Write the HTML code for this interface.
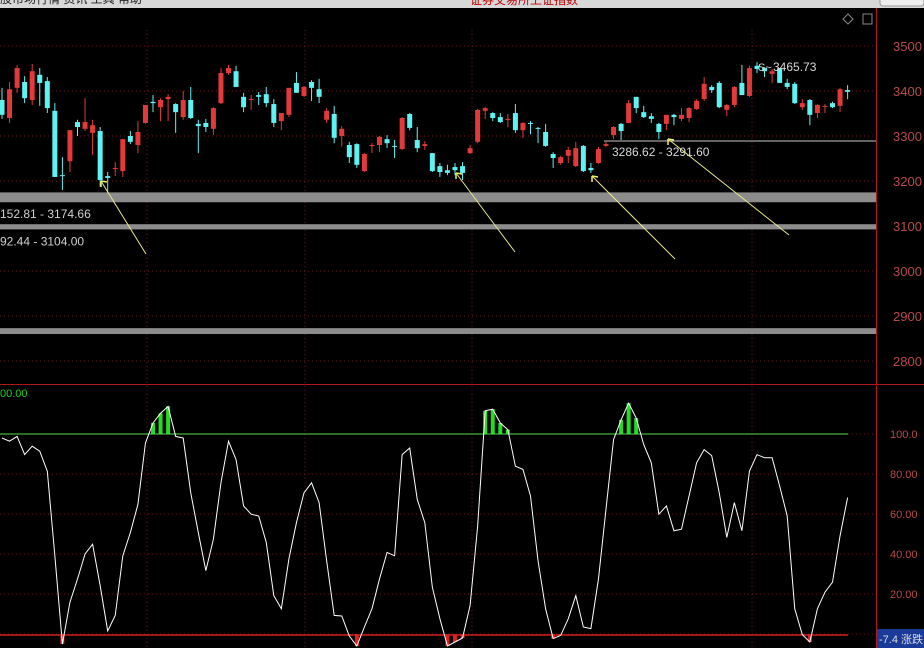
<!DOCTYPE html>
<html><head><meta charset="utf-8">
<style>
html,body{margin:0;padding:0;background:#000;width:924px;height:648px;overflow:hidden}
svg{display:block}
text{font-family:"Liberation Sans","Noto Sans CJK SC",sans-serif}
</style></head>
<body>
<svg id="chart" width="924" height="648" viewBox="0 0 924 648">
  <rect x="0" y="0" width="924" height="648" fill="#000"/>
  <rect x="0" y="0" width="924" height="8" fill="#d8d8d8"/>
  <text x="0" y="3" font-size="12" fill="#222">股市场行情    资讯    工具    帮助</text>
  <text x="470" y="4" font-size="12" fill="#c00000">证券交易所上证指数</text>
  <rect x="880" y="-4" width="44" height="10" rx="3" fill="#eee" stroke="#999"/>
  <g id="grid"></g>
  <g id="bands"></g>
  <g id="candles"></g>
  <g id="osc"></g>
  <g id="axes"></g>
  <g id="notes"></g>
  <path d="M848 14 L853 19 L848 24 L843 19 Z" fill="none" stroke="#888"/>
  <rect x="863" y="14" width="9" height="10" fill="none" stroke="#888"/>
</svg>
<script>
const ohlc_open=[3380,3340,3407,3420,3380,3436,3422,3356,3213,3244,3331,3316,3307,3311,3211,3227,3222,3300,3280,3329,3376,3364,3382,3371,3342,3380,3327,3329,3316,3373,3440,3444,3387,3380,3391,3393,3371,3333,3347,3418,3389,3420,3404,3336,3349,3300,3280,3282,3222,3278,3280,3293,3278,3271,3349,3291,3278,3262,3233,3224,3231,3233,3262,3287,3356,3351,3342,3336,3351,3313,3329,3318,3309,3260,3240,3256,3233,3278,3229,3240,3278,3302,3327,3329,3387,3353,3344,3327,3327,3347,3338,3340,3360,3382,3409,3418,3358,3369,3418,3389,3456,3451,3438,3451,3418,3416,3364,3380,3351,3366,3373,3367,3402];
const ohlc_high=[3407,3420,3458,3433,3460,3451,3431,3373,3253,3313,3336,3384,3336,3320,3220,3242,3293,3311,3333,3369,3391,3384,3393,3373,3400,3409,3336,3338,3364,3451,3458,3456,3396,3391,3398,3409,3382,3351,3407,3442,3411,3424,3427,3362,3367,3322,3287,3284,3262,3284,3300,3302,3291,3342,3351,3320,3289,3262,3240,3236,3240,3242,3280,3360,3364,3353,3351,3349,3371,3331,3333,3320,3327,3264,3256,3276,3287,3280,3240,3276,3287,3322,3329,3380,3387,3367,3351,3329,3347,3349,3362,3364,3382,3431,3413,3422,3371,3411,3458,3456,3464,3453,3449,3451,3427,3420,3382,3382,3371,3371,3376,3407,3413];
const ohlc_low=[3338,3329,3396,3373,3369,3367,3351,3209,3180,3220,3300,3311,3258,3187,3173,3211,3209,3282,3262,3327,3353,3333,3333,3307,3336,3338,3262,3309,3302,3371,3436,3409,3353,3358,3369,3364,3320,3313,3342,3396,3387,3378,3373,3329,3284,3276,3240,3229,3220,3262,3264,3273,3251,3269,3313,3264,3269,3220,3209,3213,3213,3202,3260,3284,3338,3333,3329,3320,3307,3296,3304,3284,3276,3229,3236,3240,3231,3220,3218,3238,3276,3293,3291,3329,3351,3340,3329,3293,3313,3324,3333,3331,3358,3378,3396,3362,3344,3364,3391,3387,3440,3431,3418,3418,3404,3371,3358,3324,3340,3351,3362,3353,3382];
const ohlc_close=[3347,3404,3451,3384,3444,3418,3362,3209,3211,3313,3320,3331,3324,3202,3207,3229,3293,3287,3309,3369,3373,3380,3387,3353,3380,3340,3322,3320,3362,3440,3451,3409,3364,3382,3387,3373,3329,3351,3407,3396,3409,3407,3387,3356,3296,3316,3253,3236,3260,3280,3298,3284,3276,3340,3318,3273,3282,3222,3220,3218,3224,3218,3273,3358,3362,3340,3331,3338,3313,3329,3327,3316,3278,3251,3253,3269,3273,3222,3224,3271,3282,3320,3311,3373,3362,3342,3338,3309,3347,3342,3347,3362,3378,3416,3402,3364,3369,3409,3391,3451,3449,3444,3444,3418,3409,3373,3373,3347,3369,3367,3364,3404,3398];
const osc_values=[98,96.4,98.8,89.7,93.9,91.4,81.4,39.1,-5,15.9,27.5,40,44.9,24.2,1.5,9.3,39.1,50.7,64.8,95.5,105.5,110.4,113.8,98.8,98,70.6,50.7,31.7,47.4,75.6,96.4,87.2,64,59.9,59,45.8,19.2,12.6,37.5,55.7,70.6,75.6,65.7,36.6,9.3,9,-1,-6,3.5,12.6,27.5,40.8,39.1,89.7,93,67.3,55.7,23.4,7.6,-6,-4,-2,14.3,54,111.6,112.4,105.5,102.2,83.9,82.3,69,36.6,12.6,-2.3,-0.7,7.6,19.2,3.5,2.7,27.5,62.4,97.2,107.1,115.4,108,94.7,85.6,59.9,64,51.6,52.4,69,85.6,92.2,89.2,70.6,48.3,65.7,51.6,81.4,89.7,88.1,88.1,74,59,12.6,-0.3,-4,12.6,20.9,25.9,49.1,68.2];
const priceTicks=[3500,3400,3300,3200,3100,3000,2900,2800];
const oscTicks=[100,80,60,40,20];
const oscTickLabels=["100.0","80.00","60.00","40.00","20.00"];
const bandRanges=[[3152.81,3174.66],[3092.44,3104.00],[2860,2873]];
const bandLabels=["152.81 - 3174.66","92.44 - 3104.00",""];

const NS="http://www.w3.org/2000/svg";
function mk(parent,tag,attrs){const e=document.createElementNS(NS,tag);for(const k in attrs)e.setAttribute(k,attrs[k]);parent.appendChild(e);return e;}
const xS=i=>2+i*7.55;
const yP=p=>46+(3500-p)*0.45;
const yO=v=>634-v*2;
const PR=876;

const grid=document.getElementById('grid');
priceTicks.forEach(t=>{
  const l=mk(grid,'line',{x1:0,x2:PR,y1:yP(t),y2:yP(t),stroke:'#6a1818','stroke-dasharray':'1,3'});
  
  
});
oscTicks.concat([0]).forEach(t=>{
  const l=mk(grid,'line',{x1:0,x2:PR,y1:yO(t),y2:yO(t),stroke:'#6a1818','stroke-dasharray':'1,3'});
  
  
});
[147,305,472,752].forEach(x=>{
  const l=mk(grid,'line',{x1:x,x2:x,y1:30,y2:648,stroke:'#6a1818','stroke-dasharray':'1,3'});
  
  
});

const bands=document.getElementById('bands');
bandRanges.forEach((b,i)=>{
  const y1=yP(b[1]),y2=yP(b[0]);
  const r=mk(bands,'rect',{x:0,y:y1,width:PR,height:Math.max(4,y2-y1),fill:'#8c8c8c'});
  
  
  if(bandLabels[i]){
    const t=mk(bands,'text',{x:0,y:y2+16,'font-size':12,fill:'#d0d0d0'});
    t.textContent=bandLabels[i];
    
    
  }
});

const cg=document.getElementById('candles');
ohlc_open.forEach((o,i)=>{
  const c=ohlc_close[i],h=ohlc_high[i],lo=ohlc_low[i];
  const up=c>=o;const col=up?'#e23a3a':'#5ef2f2';
  const x=xS(i);
  const w=mk(cg,'line',{x1:x,x2:x,y1:yP(h),y2:yP(lo),stroke:col,'stroke-width':1});
  
  
  const top=yP(Math.max(o,c)),bot=yP(Math.min(o,c));
  const b=mk(cg,'rect',{x:x-2.5,y:top,width:5,height:Math.max(1,bot-top),fill:col});
  
  
});

const og=document.getElementById('osc');
osc_values.forEach((v,i)=>{
  if(v>100){
    const r=mk(og,'rect',{x:xS(i)-2,y:yO(v),width:4,height:yO(100)-yO(v),fill:'#22dd22'});
    
    
  } else if(v<0){
    const r=mk(og,'rect',{x:xS(i)-2,y:yO(0),width:4,height:yO(v)-yO(0),fill:'#e02020'});
    
    
  }
});
const hl=mk(og,'line',{x1:0,x2:848,y1:yO(100),y2:yO(100),stroke:'#55dd55'});


const ll=mk(og,'line',{x1:0,x2:848,y1:yO(0)+1,y2:yO(0)+1,stroke:'#d02020','stroke-width':1.5});


const pl=mk(og,'polyline',{points:osc_values.map((v,i)=>xS(i)+','+yO(v)).join(' '),fill:'none',stroke:'#fff','stroke-width':1});


const ot=mk(og,'text',{x:0,y:397,'font-size':11,fill:'#22cc22'});
ot.textContent='00.00';



const ax=document.getElementById('axes');
const sep=mk(ax,'line',{x1:0,x2:924,y1:384.5,y2:384.5,stroke:'#b01818'});


const va=mk(ax,'line',{x1:PR+0.5,x2:PR+0.5,y1:8,y2:648,stroke:'#b01818'});


priceTicks.forEach(t=>{
  const e=mk(ax,'text',{x:893,y:yP(t)+5,'font-size':13,fill:'#b84a4a'});
  e.textContent=t;
  
  
});
oscTicks.forEach((t,i)=>{
  const e=mk(ax,'text',{x:890,y:yO(t)+4,'font-size':11,fill:'#b84a4a'});
  e.textContent=oscTickLabels[i];
  
  
});
const bx=mk(ax,'rect',{x:877,y:629,width:47,height:19,fill:'#1a3a9a'});


const bt=mk(ax,'text',{x:879,y:643,'font-size':11,fill:'#ddd'});
bt.textContent='-7.4 涨跌';



const ng=document.getElementById('notes');
const hline=mk(ng,'line',{x1:604,x2:PR,y1:141,y2:141,stroke:'#c8c8c8'});


const t1=mk(ng,'text',{x:612,y:156,'font-size':12,fill:'#d8d8d8'});
t1.textContent='3286.62 - 3291.60';


const t2=mk(ng,'text',{x:773,y:71,'font-size':12,fill:'#d8d8d8'});
t2.textContent='3465.73';


const t3=mk(ng,'text',{x:758,y:71,'font-size':11,fill:'#d8d8d8'});
t3.textContent='S~';


[[101,181,146,254],[456,173,515,252],[592,176,675,259],[668,139,789,235]].forEach(a=>{
  const l=mk(ng,'line',{x1:a[0],y1:a[1],x2:a[2],y2:a[3],stroke:'#e8e890','stroke-width':1});
  
  
  const h=mk(ng,'path',{d:`M${a[0]} ${a[1]} l0 6 M${a[0]} ${a[1]} l6 1`,stroke:'#f0f060','stroke-width':1.5,fill:'none'});
  
  
});
</script>
</body></html>
